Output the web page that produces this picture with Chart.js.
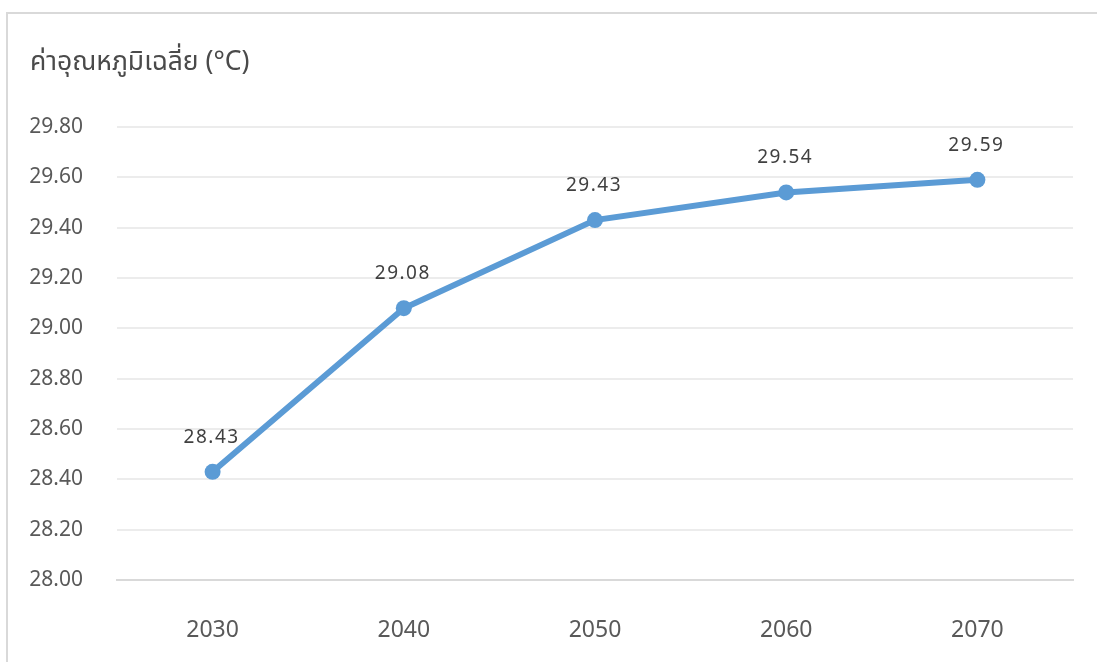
<!DOCTYPE html>
<html>
<head>
<meta charset="utf-8">
<script src="https://cdn.jsdelivr.net/npm/chart.js@4/dist/chart.umd.min.js"></script>
<style>
  html, body { margin: 0; padding: 0; background: #fff; }
  #wrap { position: relative; width: 1097px; height: 662px; overflow: hidden; }
  #frame { position: absolute; left: 6px; top: 12px; width: 1200px; height: 800px;
           border-top: 2px solid #d9d9d9; border-left: 2px solid #d9d9d9; }
  canvas { position: absolute; left: 0; top: 0; }
</style>
</head>
<body>
<div id="wrap">
  <div id="frame"></div>
  <canvas id="myChart" width="1097" height="662"></canvas>
</div>
<script>
const years = ['2030', '2040', '2050', '2060', '2070'];
const avgTemp = [28.43, 29.08, 29.43, 29.54, 29.59];
const yMin = 28.0;
const yMax = 29.8;
const yStep = 0.2;
const titleText = 'ค่าอุณหภูมิเฉลี่ย (°C)';

const fontFamily = '"Noto Sans", "Noto Sans Thai", "DejaVu Sans", sans-serif';

// value labels above each point + title in the corner
const labelPlugin = {
  id: 'labels',
  afterDatasetsDraw(chart) {
    const ctx = chart.ctx;
    const meta = chart.getDatasetMeta(0);
    ctx.save();
    ctx.font = '19px ' + fontFamily;
    ctx.letterSpacing = '1.5px';
    ctx.fillStyle = '#404040';
    ctx.textAlign = 'center';
    ctx.textBaseline = 'alphabetic';
    meta.data.forEach((pt, i) => {
      ctx.fillText(avgTemp[i].toFixed(2), pt.x - 1, pt.y - 29);
    });
    ctx.letterSpacing = '0px';
    ctx.font = '26.5px ' + fontFamily;
    ctx.fillStyle = '#4a4a4a';
    ctx.textAlign = 'left';
    ctx.fillText(titleText, 30, 70);
    ctx.restore();
  }
};

new Chart(document.getElementById('myChart').getContext('2d'), {
  type: 'line',
  data: {
    labels: years,
    datasets: [{
      data: avgTemp,
      borderColor: '#5b9bd5',
      backgroundColor: '#5b9bd5',
      borderWidth: 6,
      pointRadius: 8,
      pointBackgroundColor: '#5b9bd5',
      pointBorderWidth: 0,
      tension: 0
    }]
  },
  options: {
    responsive: false,
    animation: false,
    layout: { padding: { left: 0, right: 24, top: 127, bottom: 0 } },
    plugins: {
      legend: { display: false },
      tooltip: { enabled: false }
    },
    scales: {
      x: {
        offset: true,
        grid: { display: false, drawTicks: false },
        border: { color: '#d9d9d9', width: 2 },
        ticks: { color: '#595959', font: { family: fontFamily, size: 23 }, padding: 37 },
        afterFit(scale) { scale.height = 82; }
      },
      y: {
        min: yMin,
        max: yMax,
        grid: { color: '#ececec', lineWidth: 2, drawTicks: false },
        border: { display: false },
        ticks: {
          stepSize: yStep,
          color: '#595959',
          font: { family: fontFamily, size: 21 },
          padding: 34,
          callback: v => v.toFixed(2)
        },
        afterFit(scale) { scale.width = 117; }
      }
    }
  },
  plugins: [labelPlugin]
});
</script>
</body>
</html>
